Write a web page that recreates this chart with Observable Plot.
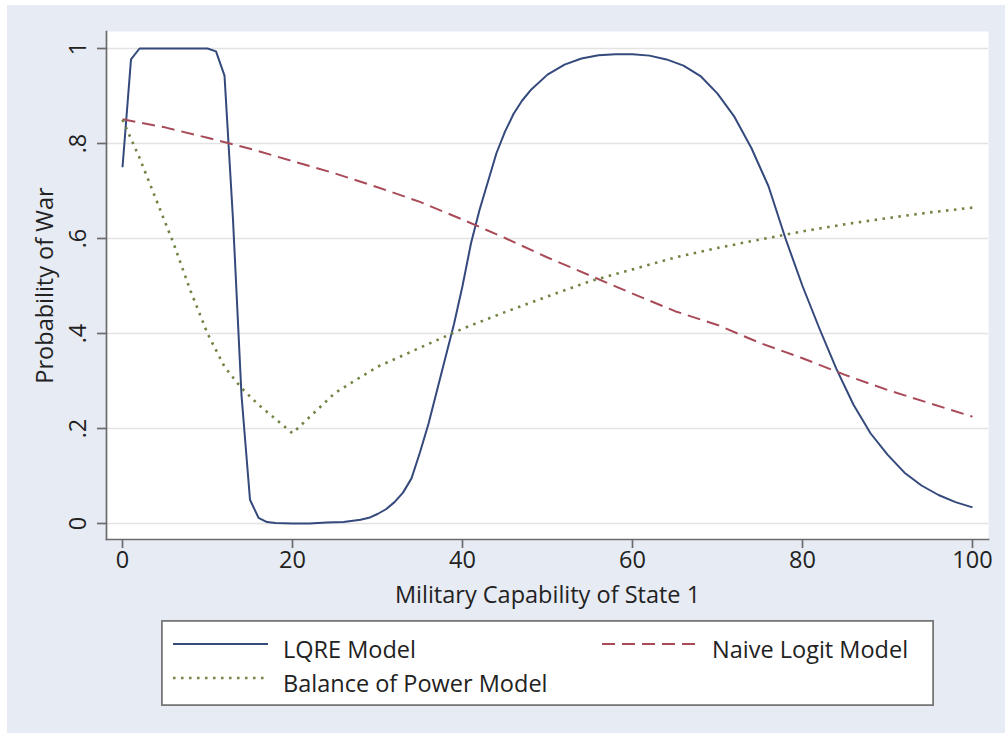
<!DOCTYPE html>
<html><head><meta charset="utf-8">
<script src="https://cdn.jsdelivr.net/npm/d3@7"></script>
<script src="https://cdn.jsdelivr.net/npm/@observablehq/plot@0.6"></script>
<style>
html,body{margin:0;padding:0;background:#fff;width:1005px;height:733px;overflow:hidden;}
#bg{position:absolute;left:7px;top:5px;width:998px;height:728px;background:#e7ebf4;}
#chart{position:absolute;left:0;top:0;}
#legend{position:absolute;left:161px;top:620px;}
</style></head>
<body>
<div id="bg"></div>
<div id="chart"></div>
<div id="legend"></div>
<script>
// ---- data ----
const lqreX = [0,1,2,4,6,8,10,11,12,13,14,15,16,17,18,20,22,24,26,28,29,30,31,32,33,34,35,36,37,38,39,40,41,42,43,44,45,46,47,48,50,52,54,56,58,60,62,64,66,68,70,72,74,76,78,80,82,84,86,88,90,92,94,96,98,100];
const lqreY = [0.75,0.977,1,1,1,1,1,0.994,0.943,0.64,0.27,0.05,0.012,0.003,0.001,0,0,0.002,0.003,0.008,0.012,0.02,0.03,0.045,0.065,0.095,0.15,0.21,0.28,0.35,0.42,0.5,0.59,0.66,0.72,0.78,0.825,0.862,0.89,0.912,0.945,0.966,0.979,0.986,0.988,0.988,0.985,0.977,0.964,0.942,0.905,0.856,0.79,0.71,0.6,0.5,0.41,0.325,0.25,0.19,0.145,0.107,0.08,0.06,0.045,0.034];
const naiveX = [0,5,10,15,20,25,30,35,40,45,50,55,60,65,70,75,80,85,90,95,100];
const naiveY = [0.851,0.834,0.812,0.789,0.763,0.737,0.708,0.677,0.64,0.601,0.56,0.522,0.484,0.447,0.418,0.38,0.348,0.313,0.281,0.253,0.225];
const balX = [0,2,4,6,8,10,12,14,16,18,20,25,30,35,40,45,50,55,60,65,70,75,80,85,90,95,100];
const balY = [0.85,0.77,0.68,0.59,0.49,0.40,0.33,0.285,0.25,0.22,0.19,0.275,0.33,0.37,0.41,0.445,0.478,0.51,0.535,0.56,0.58,0.598,0.615,0.63,0.643,0.655,0.665];
const xTicks = [0,20,40,60,80,100];
const yTicks = [0,0.2,0.4,0.6,0.8,1];
const seriesNames = ["LQRE Model","Naive Logit Model","Balance of Power Model"];
const xTitle = "Military Capability of State 1";
const yTitle = "Probability of War";

// ---- styles ----
const colors = ["#34497c","#a84a58","#6f8442"];
const dashes = [null,"13,7","2.5,5.5"];
const widths = [2,2,2.6];
const FONT = "Open Sans";
const FS = 23.5;

const toRows = (xs, ys, s) => xs.map((x,i)=>({x, y: ys[i], s}));
const rows = [
  toRows(lqreX, lqreY, seriesNames[0]),
  toRows(naiveX, naiveY, seriesNames[1]),
  toRows(balX, balY, seriesNames[2])
];
const yFmt = d => d === 0 ? "0" : d === 1 ? "1" : d3.format(".1f")(d).replace(/^0/,"");

const plot = Plot.plot({
  width: 1005, height: 612,
  marginLeft: 106, marginRight: 17, marginTop: 31, marginBottom: 73,
  style: {background: "transparent", fontFamily: FONT, fontSize: FS + "px", color: "#222"},
  x: {domain: [0,100], range: [122,972]},
  y: {domain: [0,1], range: [523,48]},
  marks: [
    Plot.frame({fill: "white", stroke: "none"}),
    Plot.gridY(yTicks, {stroke: "#e3e3e3", strokeOpacity: 1, strokeWidth: 1.5}),
    ...rows.map((r,i) => Plot.line(r, {x: "x", y: "y", stroke: colors[i], strokeWidth: widths[i], strokeDasharray: dashes[i], strokeLinecap: "butt", strokeLinejoin: "round"})),
    Plot.frame({anchor: "left", stroke: "#6b6b6b", strokeWidth: 1.7}),
    Plot.frame({anchor: "bottom", stroke: "#6b6b6b", strokeWidth: 1.7}),
    Plot.axisX(xTicks, {tickSize: 9, tickPadding: 3, stroke: "#6b6b6b", strokeWidth: 1.7, fill: "#222", fontSize: FS,
      label: xTitle, labelAnchor: "center", labelOffset: 63, labelArrow: "none"}),
    Plot.axisY(yTicks, {tickSize: 9, tickPadding: 12, tickRotate: -90, tickFormat: yFmt, stroke: "#6b6b6b", strokeWidth: 1.7, fill: "#222", fontSize: FS,
      label: yTitle, labelAnchor: "center", labelOffset: 70, labelArrow: "none"})
  ]
});
document.getElementById("chart").appendChild(plot);

// ---- legend ----
const W = 773, H = 86;
const svg = d3.select("#legend").append("svg").attr("width", W).attr("height", H)
  .style("font-family", FONT).style("font-size", FS + "px");
svg.append("rect").attr("x", 0.9).attr("y", 0.9).attr("width", W - 1.8).attr("height", H - 1.8)
  .attr("fill", "white").attr("stroke", "#777").attr("stroke-width", 1.8);
const pos = [[0,0],[1,0],[0,1]];
seriesNames.forEach((name, i) => {
  const [c, r] = pos[i];
  const x0 = c === 0 ? 12 : 441;
  const yl = r === 0 ? 24 : 58;
  const g = svg.append("g");
  g.append("line").attr("x1", x0).attr("x2", x0 + 95).attr("y1", yl).attr("y2", yl)
    .attr("stroke", colors[i]).attr("stroke-width", widths[i])
    .attr("stroke-dasharray", dashes[i]);
  g.append("text").attr("x", x0 + 110).attr("y", yl + 14).attr("fill", "#222").text(name);
});
</script>
</body></html>
